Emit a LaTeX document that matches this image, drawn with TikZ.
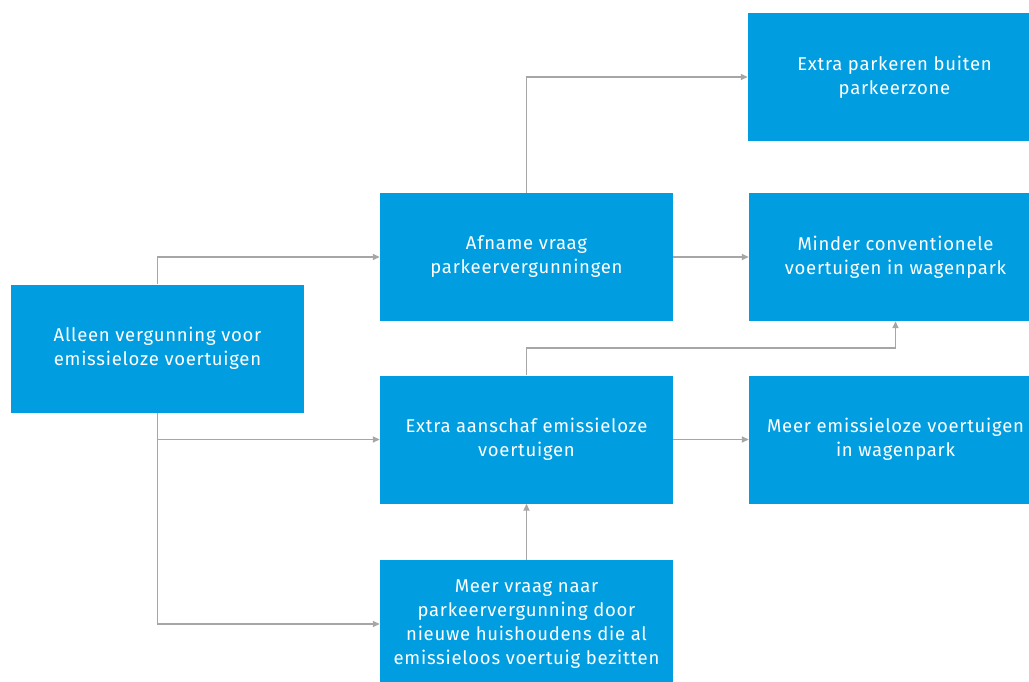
\documentclass[tikz,border=0pt]{standalone}
\usepackage{fontspec}
\setmainfont{Fira Sans}[LetterSpace=4]
\usepackage{xcolor}
\definecolor{acc}{HTML}{009EE0}
\definecolor{wire}{HTML}{A6A6A6}
\usetikzlibrary{arrows.meta,positioning,calc}
\tikzset{
  >={Triangle[length=7pt,width=6pt]},
  box/.style={fill=acc,draw=none,minimum width=293pt,minimum height=128pt,inner sep=0pt,
    text=white,align=center,font=\fontsize{18.5}{24}\selectfont},
  arr/.style={->,draw=wire,line width=1.6pt},
}
\begin{document}
\begin{tikzpicture}[x=1pt,y=-1pt]
\useasboundingbox (0,0) rectangle (1029,682);
\node[box] (alleen) at (157.5,348.5) {Alleen vergunning voor\\emissieloze voertuigen};
\node[box] (afname) at (526.5,257) {Afname vraag\\parkeervergunningen};
\node[box] (buiten) at (894.5,77) {Extra parkeren buiten\\parkeerzone};
\node[box] (minder) at (895.5,257) {Minder conventionele\\voertuigen in wagenpark};
\node[box] (aanschaf) at (526.5,439.5) {Extra aanschaf emissieloze\\voertuigen};
\node[box] (meer) at (895.5,439.5) {Meer emissieloze voertuigen\\in wagenpark};
\node[box] (vraag) at (526.5,624) {Meer vraag naar\\parkeervergunning door\\nieuwe huishoudens die al\\emissieloos voertuig bezitten};
\draw[arr] (alleen.north) |- (afname.west);
\draw[arr] (alleen.south) |- (aanschaf.west);
\draw[arr] (alleen.south) |- (vraag.west);
\draw[arr] (afname.north) |- (buiten.west);
\draw[arr] (afname) -- (minder);
\draw[arr] (aanschaf.north) |- ($(aanschaf.north)!.5!(minder.south)$) -| (minder.south);
\draw[arr] (aanschaf) -- (meer);
\draw[arr] (vraag) -- (aanschaf);
\end{tikzpicture}
\end{document}
